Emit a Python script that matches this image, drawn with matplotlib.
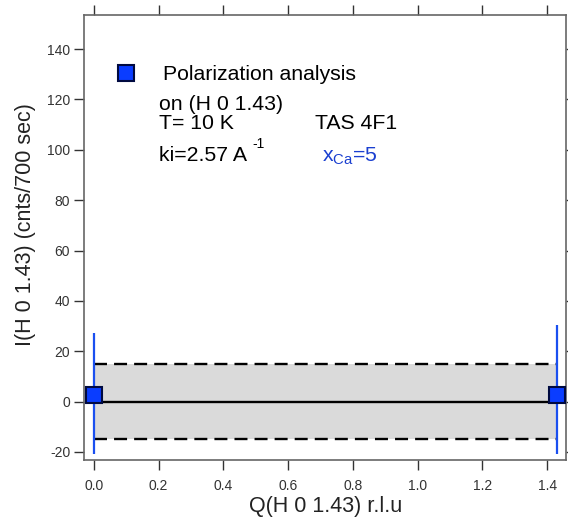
import matplotlib
matplotlib.use("Agg")
import matplotlib.pyplot as plt

plt.rcParams['font.family'] = ['Liberation Sans', 'DejaVu Sans']
plt.rcParams['axes.unicode_minus'] = False

# measured points
q_vals = [0.0, 1.43]
intensity = [2.6, 2.8]
err_low = [23.3, 23.5]
err_high = [24.6, 27.7]

# background band (+/- level) and zero line
band_x = [0.0, 1.43]
band_level = 15
zero_level = 0

fig = plt.figure(figsize=(5.68, 5.21), dpi=100)
ax = fig.add_axes([0.148, 0.117, 0.849, 0.854])

ax.fill_between(band_x, [-band_level, -band_level], [band_level, band_level],
                color='#dadada', zorder=1, linewidth=0)
ax.plot(band_x, [band_level, band_level], '--', color='black', lw=1.7,
        dashes=(5.5, 3), zorder=2)
ax.plot(band_x, [-band_level, -band_level], '--', color='black', lw=1.7,
        dashes=(5.5, 3), zorder=2)
ax.plot(band_x, [zero_level, zero_level], '-', color='black', lw=1.7, zorder=2)

ax.errorbar(q_vals, intensity, yerr=[err_low, err_high], fmt='s',
            color='#1a4ff0', ecolor='#1a4ff0', elinewidth=1.6, capsize=0,
            markersize=12, markerfacecolor='#0a3dff', markeredgecolor='#000a40',
            markeredgewidth=1.5, zorder=3, clip_on=False)

# legend-like annotation
ax.plot([0.099], [130.6], 's', markersize=12, markerfacecolor='#0a3dff',
        markeredgecolor='#000a40', markeredgewidth=1.5)
fs = 15.3
ax.text(0.213, 127.8, "Polarization analysis", fontsize=fs, va='baseline')
ax.text(0.2, 115.9, "on (H 0 1.43)", fontsize=fs, va='baseline')
ax.text(0.2, 108.2, "T= 10 K", fontsize=fs, va='baseline')
ax.text(0.684, 108.2, "TAS 4F1", fontsize=fs, va='baseline')
ax.text(0.2, 95.6, "ki=2.57 A", fontsize=fs, va='baseline')
ax.text(0.49, 100.8, "-1", fontsize=10, va='baseline')
ax.text(0.705, 95.6, r"x$_{\mathregular{Ca}}$=5", fontsize=fs, va='baseline',
        color='#1a3fd0')

ax.set_xlim(-0.03, 1.459)
ax.set_ylim(-23.2, 153.5)
ax.set_xticks([0.0, 0.2, 0.4, 0.6, 0.8, 1.0, 1.2, 1.4])
ax.set_yticks([-20, 0, 20, 40, 60, 80, 100, 120, 140])
ax.tick_params(direction='out', length=7, width=1, color='#333333',
               labelcolor='#333333', labelsize=10, top=True, right=True)
ax.tick_params(axis='x', pad=7)
ax.tick_params(axis='y', pad=3)
for s in ax.spines.values():
    s.set_color('#666666')
    s.set_linewidth(1.2)

ax.set_xlabel("Q(H 0 1.43) r.l.u", fontsize=15.5, color='#222222', labelpad=2)
ax.set_ylabel("I(H 0 1.43) (cnts/700 sec)", fontsize=15.5, color='#222222')
ax.yaxis.set_label_coords(-0.1, 0.53)

fig.savefig("out.png", dpi=100)
